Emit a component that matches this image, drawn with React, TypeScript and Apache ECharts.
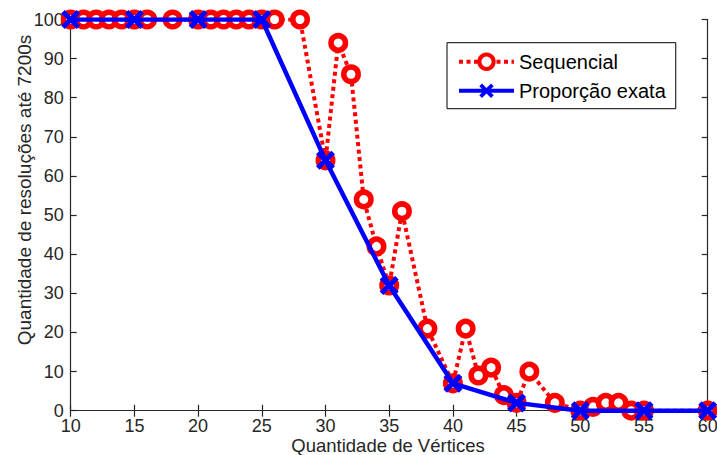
import React, { useEffect, useRef } from "react";
import * as echarts from "echarts";

const seqX = [10, 11, 12, 13, 14, 15, 16, 18, 20, 21, 22, 23, 24, 25, 26, 28, 30, 31, 32, 33, 34, 35, 36, 38, 40, 41, 42, 43, 44, 45, 46, 48, 50, 51, 52, 53, 54, 55, 60];
const seqY = [100, 100, 100, 100, 100, 100, 100, 100, 100, 100, 100, 100, 100, 100, 100, 100, 64, 94, 86, 54, 42, 32, 51, 21, 7, 21, 9, 11, 4, 2, 10, 2, 0, 1, 2, 2, 0, 0, 0];
const propX = [10, 15, 20, 25, 30, 35, 40, 45, 50, 55, 60];
const propY = [100, 100, 100, 100, 64, 32, 7, 2, 0, 0, 0];
const seriesNames = ["Sequencial", "Proporção exata"];
const xLabel = "Quantidade de Vértices";
const yLabel = "Quantidade de resoluções até 7200s";

const FONT = "Liberation Sans, Arial, Helvetica, sans-serif";
const AX = "#262626";
const d = 18.6;
const X_PATH = `path://M0,${d}L${d},0L50,${50 - d}L${100 - d},0L100,${d}L${50 + d},50L100,${100 - d}L${100 - d},100L50,${50 + d}L${d},100L0,${100 - d}L${50 - d},50Z`;

export default function App() {
  const ref = useRef<HTMLDivElement>(null);
  useEffect(() => {
    if (!ref.current) return;
    const chart = echarts.init(ref.current, null, { renderer: "svg" });
    const axisCommon = {
      type: "value" as const,
      axisLine: { show: true, lineStyle: { color: AX, width: 1.2 } },
      axisTick: { show: true, inside: true, length: 6, lineStyle: { color: AX, width: 1.2 } },
      splitLine: { show: false },
    };
    chart.setOption({
      animation: false,
      backgroundColor: "#ffffff",
      textStyle: { fontFamily: FONT },
      grid: { left: 70.7, right: 9.3, top: 19.5, bottom: 44.3, containLabel: false, outerBoundsMode: "none" },
      xAxis: [
        {
          ...axisCommon,
          position: "bottom",
          min: 10,
          max: 60,
          interval: 5,
          axisLabel: { color: AX, fontSize: 18, fontFamily: FONT, margin: 6 },
        },
        {
          ...axisCommon,
          position: "top",
          min: 10,
          max: 60,
          interval: 5,
          axisLabel: { show: false },
        },
      ],
      yAxis: [
        {
          ...axisCommon,
          position: "left",
          min: 0,
          max: 100,
          interval: 10,
          axisLabel: { color: AX, fontSize: 18, fontFamily: FONT, margin: 7 },
        },
        {
          ...axisCommon,
          position: "right",
          min: 0,
          max: 100,
          interval: 10,
          axisLabel: { show: false },
        },
      ],
      legend: {
        orient: "vertical",
        left: 447,
        top: 42.7,
        padding: [9, 10, 8, 10],
        itemGap: 9,
        itemWidth: 55,
        itemHeight: 18,
        backgroundColor: "#ffffff",
        borderColor: "#000000",
        borderWidth: 1,
        borderRadius: 0,
        itemStyle: { borderWidth: 4 },
        lineStyle: { width: 4 },
        textStyle: { color: "#000000", fontSize: 20, fontFamily: FONT },
        data: seriesNames,
      },
      graphic: [
        {
          type: "text",
          x: 24,
          y: 190,
          rotation: Math.PI / 2,
          style: {
            text: yLabel,
            fill: AX,
            font: `19px ${FONT}`,
            align: "center",
            verticalAlign: "middle",
          },
        },
        {
          type: "text",
          x: 388,
          y: 445,
          style: {
            text: xLabel,
            fill: AX,
            font: `18.5px ${FONT}`,
            align: "center",
            verticalAlign: "middle",
          },
        },
      ],
      series: [
        {
          name: seriesNames[0],
          type: "line",
          data: seqX.map((x, i) => [x, seqY[i]]),
          symbol: "circle",
          symbolSize: 14.5,
          itemStyle: { color: "#ffffff", borderColor: "#ff0000", borderWidth: 5.5 },
          lineStyle: { color: "#ff0000", width: 4, type: [4, 3.5] },
          z: 2,
        },
        {
          name: seriesNames[1],
          type: "line",
          data: propX.map((x, i) => [x, propY[i]]),
          symbol: X_PATH,
          symbolSize: 19,
          itemStyle: { color: "#0000ff", borderWidth: 0 },
          lineStyle: { color: "#0000ff", width: 4.5, type: "solid" },
          z: 3,
        },
      ],
    });
    return () => chart.dispose();
  }, []);
  return <div ref={ref} style={{ width: 717, height: 455, position: "absolute", left: 0, top: 0 }} />;
}
